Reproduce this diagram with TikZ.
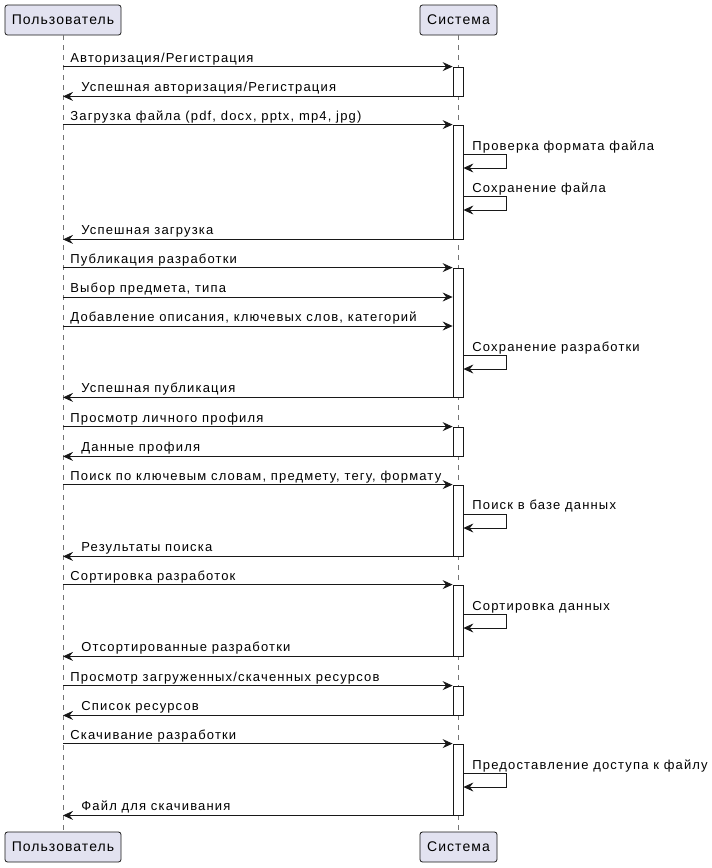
\documentclass[tikz,border=0pt]{standalone}
\usepackage{fontspec}
\setmainfont{Liberation Sans}[LetterSpace=7.5]
\usetikzlibrary{arrows.meta}
\definecolor{boxfill}{HTML}{E2E2F0}
\definecolor{ink}{HTML}{181818}
\tikzset{
  actor/.style={draw=ink, fill=boxfill, rounded corners=2.5pt, minimum height=30pt, inner sep=0pt, font=\fontsize{14}{16}\selectfont},
  life/.style={draw=ink!60, dash pattern=on 5pt off 5pt},
  act/.style={draw=ink, fill=white, minimum width=10pt, inner sep=0pt},
  msg/.style={draw=ink, -{Stealth[length=10pt,width=9pt,inset=3.5pt]}},
  lbl/.style={font=\fontsize{13}{15}\selectfont\addfontfeature{LetterSpace=9}, inner sep=0pt, anchor=base west},
}
\begin{document}
\begin{tikzpicture}[x=1pt, y=-1pt, line width=0.8pt]
\useasboundingbox (0,0) rectangle (712,868);
\node[actor, minimum width=116pt] (u) at (63,20) {Пользователь};
\node[actor, minimum width=77pt] (s) at (458.5,20) {Система};
\node[actor, minimum width=116pt] (u2) at (63,847) {Пользователь};
\node[actor, minimum width=77pt] (s2) at (458.5,847) {Система};
\draw[life] (u) -- (u2);
\draw[life] (s) -- (s2);
\node[act, minimum height=29pt] (a1) at (458,81.5) {};
\node[act, minimum height=114pt] (a2) at (458,182) {};
\node[act, minimum height=129pt] (a3) at (458,332.5) {};
\node[act, minimum height=29pt] (a4) at (458,441.5) {};
\node[act, minimum height=71pt] (a5) at (458,520.5) {};
\node[act, minimum height=71pt] (a6) at (458,620.5) {};
\node[act, minimum height=29pt] (a7) at (458,700.5) {};
\node[act, minimum height=71pt] (a8) at (458,779.5) {};

\draw[msg] (u |- a1.north) -- (a1.north west) node[lbl] at (70,62) {Авторизация/Регистрация};
\draw[msg] (a1.south west) -- (u |- a1.south) node[lbl] at (81,91) {Успешная авторизация/Регистрация};

\draw[msg] (u |- a2.north) -- (a2.north west) node[lbl] at (70,120) {Загрузка файла (pdf, docx, pptx, mp4, jpg)};
\draw[msg] (a2.east |- 0,154) -- ++(43,0) -- ++(0,14) -- (a2.east |- 0,168) node[lbl] at (472,150) {Проверка формата файла};
\draw[msg] (a2.east |- 0,196) -- ++(43,0) -- ++(0,14) -- (a2.east |- 0,210) node[lbl] at (472,192) {Сохранение файла};
\draw[msg] (a2.south west) -- (u |- a2.south) node[lbl] at (81,234) {Успешная загрузка};

\draw[msg] (u |- a3.north) -- (a3.north west) node[lbl] at (70,263) {Публикация разработки};
\draw[msg] (u |- 0,297) -- (a3.west |- 0,297) node[lbl] at (70,292) {Выбор предмета, типа};
\draw[msg] (u |- 0,326) -- (a3.west |- 0,326) node[lbl] at (70,321) {Добавление описания, ключевых слов, категорий};
\draw[msg] (a3.east |- 0,355) -- ++(43,0) -- ++(0,14) -- (a3.east |- 0,369) node[lbl] at (472,351) {Сохранение разработки};
\draw[msg] (a3.south west) -- (u |- a3.south) node[lbl] at (81,392) {Успешная публикация};

\draw[msg] (u |- a4.north) -- (a4.north west) node[lbl] at (70,422) {Просмотр личного профиля};
\draw[msg] (a4.south west) -- (u |- a4.south) node[lbl] at (81,451) {Данные профиля};

\draw[msg] (u |- a5.north) -- (a5.north west) node[lbl] at (70,480) {Поиск по ключевым словам, предмету, тегу, формату};
\draw[msg] (a5.east |- 0,514) -- ++(43,0) -- ++(0,14) -- (a5.east |- 0,528) node[lbl] at (472,509) {Поиск в базе данных};
\draw[msg] (a5.south west) -- (u |- a5.south) node[lbl] at (81,551) {Результаты поиска};

\draw[msg] (u |- a6.north) -- (a6.north west) node[lbl] at (70,580) {Сортировка разработок};
\draw[msg] (a6.east |- 0,614) -- ++(43,0) -- ++(0,14) -- (a6.east |- 0,628) node[lbl] at (472,610) {Сортировка данных};
\draw[msg] (a6.south west) -- (u |- a6.south) node[lbl] at (81,651) {Отсортированные разработки};

\draw[msg] (u |- a7.north) -- (a7.north west) node[lbl] at (70,681) {Просмотр загруженных/скаченных ресурсов};
\draw[msg] (a7.south west) -- (u |- a7.south) node[lbl] at (81,710) {Список ресурсов};

\draw[msg] (u |- a8.north) -- (a8.north west) node[lbl] at (70,739) {Скачивание разработки};
\draw[msg] (a8.east |- 0,773) -- ++(43,0) -- ++(0,14) -- (a8.east |- 0,787) node[lbl] at (472,769) {Предоставление доступа к файлу};
\draw[msg] (a8.south west) -- (u |- a8.south) node[lbl] at (81,810) {Файл для скачивания};
\end{tikzpicture}
\end{document}
